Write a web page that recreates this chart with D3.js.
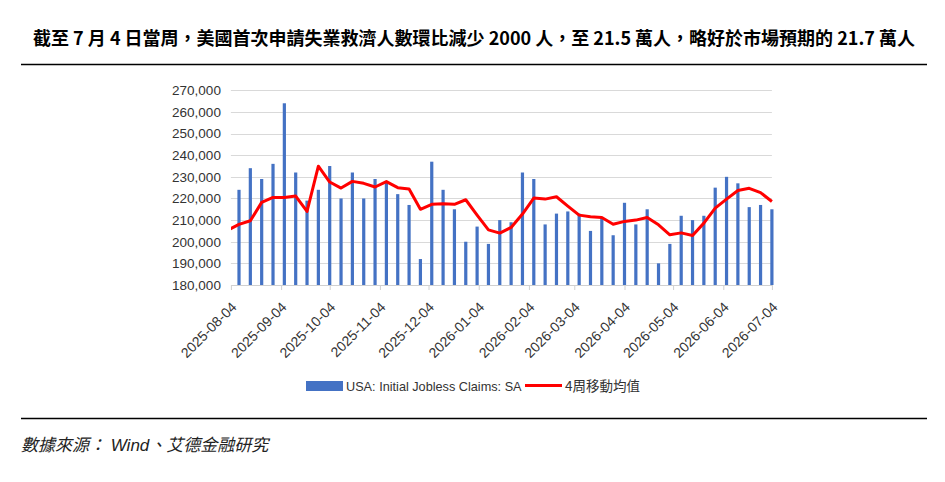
<!DOCTYPE html>
<html>
<head>
<meta charset="utf-8">
<script src="https://cdn.jsdelivr.net/npm/d3@7"></script>
<style>
  html, body { margin: 0; padding: 0; background: #fff; }
  svg { display: block; }
</style>
</head>
<body>
<svg id="chart" width="945" height="482"></svg>
<script>
// ---------- data ----------
const titleText = "截至 7 月 4 日當周，美國首次申請失業救濟人數環比減少 2000 人，至 21.5 萬人，略好於市場預期的 21.7 萬人";
const sourceText = "數據來源： Wind、艾德金融研究";
const barName = "USA: Initial Jobless Claims: SA";
const lineName = "4周移動均值";

const weekDates = [
  "2025-08-09","2025-08-16","2025-08-23","2025-08-30","2025-09-06","2025-09-13","2025-09-20","2025-09-27",
  "2025-10-04","2025-10-11","2025-10-18","2025-10-25","2025-11-01","2025-11-08","2025-11-15","2025-11-22",
  "2025-11-29","2025-12-06","2025-12-13","2025-12-20","2025-12-27","2026-01-03","2026-01-10","2026-01-17",
  "2026-01-24","2026-01-31","2026-02-07","2026-02-14","2026-02-21","2026-02-28","2026-03-07","2026-03-14",
  "2026-03-21","2026-03-28","2026-04-04","2026-04-11","2026-04-18","2026-04-25","2026-05-02","2026-05-09",
  "2026-05-16","2026-05-23","2026-05-30","2026-06-06","2026-06-13","2026-06-20","2026-06-27","2026-07-04"
];

const claims = [
  224000, 234000, 229000, 236000, 264000, 232000, 219000, 224000, 235000, 220000,
  232000, 220000, 229000, 228000, 222000, 217000, 192000, 237000, 224000, 215000,
  200000, 207000, 199000, 210000, 209000, 232000, 229000, 208000, 213000, 214000,
  213000, 205000, 211000, 203000, 218000, 208000, 215000, 190000, 199000, 212000,
  210000, 212000, 225000, 230000, 227000, 216000, 217000, 215000
];

// moving average line (includes the week before the axis start, clipped at the plot edge)
const maDates = ["2025-08-02"].concat(weekDates);
const movingAvg = [
  205300,
  208000, 209700, 218200, 220500, 220400, 221100, 214000, 234900, 227600, 224800,
  227900, 227000, 225300, 227800, 225000, 224400, 215000, 217300, 217600, 217300,
  219400, 212300, 205500, 204000, 206600, 212800, 220200, 219700, 220800, 216500,
  212300, 211500, 211200, 208100, 209400, 210000, 211200, 207800, 203200, 204100,
  202900, 208600, 215500, 219700, 223700, 224700, 222700, 218600
];

const xTickDates = [
  "2025-08-04","2025-09-04","2025-10-04","2025-11-04","2025-12-04","2026-01-04",
  "2026-02-04","2026-03-04","2026-04-04","2026-05-04","2026-06-04","2026-07-04"
];
const yTicks = [180000,190000,200000,210000,220000,230000,240000,250000,260000,270000];

// ---------- drawing ----------
const parse = d3.timeParse("%Y-%m-%d");
const svg = d3.select("#chart");
svg.append("rect").attr("width",945).attr("height",482).attr("fill","#fff");

const plot = {left: 230.9, right: 771.9, top: 90.3, bottom: 285};

const x = d3.scaleTime()
  .domain([parse(xTickDates[0]), parse(xTickDates[xTickDates.length-1])])
  .range([plot.left, plot.right]);
const y = d3.scaleLinear().domain([180000, 270000]).range([plot.bottom, plot.top]);

// title
svg.append("text")
  .attr("x", 474).attr("y", 45)
  .attr("text-anchor","middle")
  .attr("font-family","'Noto Sans CJK TC','Noto Sans CJK SC',sans-serif")
  .attr("font-weight","bold")
  .attr("font-size", 18)
  .attr("fill","#000")
  .text(titleText);

svg.append("line").attr("x1",21).attr("x2",927).attr("y1",64.5).attr("y2",64.5)
  .attr("stroke","#000").attr("stroke-width",1.3);

// gridlines
svg.append("g").selectAll("line").data(yTicks.slice(1)).join("line")
  .attr("x1", plot.left).attr("x2", plot.right)
  .attr("y1", d => Math.round(y(d)) + 0.5).attr("y2", d => Math.round(y(d)) + 0.5)
  .attr("stroke","#d9d9d9").attr("stroke-width",1);

// y axis labels
const yAxis = d3.axisLeft(y).tickValues(yTicks).tickSize(0).tickPadding(0)
  .tickFormat(d3.format(","));
const gy = svg.append("g").attr("transform", `translate(${plot.left - 10},0)`).call(yAxis);
gy.select(".domain").remove();
gy.selectAll("text")
  .attr("font-family","'Liberation Sans',Arial,sans-serif")
  .attr("font-size", 13.5)
  .attr("fill","#333");

// bars
const barW = 3.2;
svg.append("g").selectAll("rect").data(claims).join("rect")
  .attr("x", (d,i) => x(parse(weekDates[i])) - barW/2)
  .attr("width", barW)
  .attr("y", d => y(d))
  .attr("height", d => y(180000) - y(d))
  .attr("fill","#4472c4");

// x axis
const xAxis = d3.axisBottom(x)
  .tickValues(xTickDates.map(parse))
  .tickSize(5).tickSizeOuter(0)
  .tickFormat(d3.timeFormat("%Y-%m-%d"));
const gx = svg.append("g").attr("transform", `translate(0,${plot.bottom})`).call(xAxis);
gx.select(".domain").attr("stroke","#d0d0d0");
gx.selectAll(".tick line").attr("stroke","#d0d0d0");
gx.selectAll("text")
  .attr("font-family","'Liberation Sans',Arial,sans-serif")
  .attr("font-size", 14)
  .attr("fill","#333")
  .attr("text-anchor","end")
  .attr("x", 0).attr("y", 0).attr("dy", 0)
  .attr("transform","translate(6,23) rotate(-45)");

// moving average line (clipped to plot area)
svg.append("clipPath").attr("id","plotClip")
  .append("rect").attr("x", plot.left).attr("y", 0)
  .attr("width", plot.right - plot.left + 4).attr("height", 482);
const line = d3.line()
  .x((d,i) => x(parse(maDates[i])))
  .y(d => y(d));
svg.append("path")
  .datum(movingAvg)
  .attr("clip-path","url(#plotClip)")
  .attr("d", line)
  .attr("fill","none")
  .attr("stroke","#ff0000")
  .attr("stroke-width",3)
  .attr("stroke-linejoin","round");

// legend
const lg = svg.append("g");
lg.append("rect").attr("x",306).attr("y",381).attr("width",37).attr("height",10).attr("fill","#4472c4");
lg.append("text").attr("x",346).attr("y",390.5)
  .attr("font-family","'Liberation Sans',Arial,sans-serif")
  .attr("font-size",12.7).attr("fill","#333").text(barName);
lg.append("line").attr("x1",525).attr("x2",562).attr("y1",385.5).attr("y2",385.5)
  .attr("stroke","#ff0000").attr("stroke-width",3);
lg.append("text").attr("x",565).attr("y",391)
  .attr("font-family","'Noto Sans CJK TC',sans-serif")
  .attr("font-size",13.5).attr("fill","#333").text(lineName);

// footer
svg.append("line").attr("x1",21).attr("x2",927).attr("y1",418.5).attr("y2",418.5)
  .attr("stroke","#000").attr("stroke-width",1.3);
svg.append("text").attr("x",21).attr("y",451)
  .attr("font-family","'Liberation Sans','Noto Sans CJK TC',sans-serif")
  .attr("font-style","italic")
  .attr("font-size",17)
  .attr("fill","#222")
  .text(sourceText);
</script>
</body>
</html>
